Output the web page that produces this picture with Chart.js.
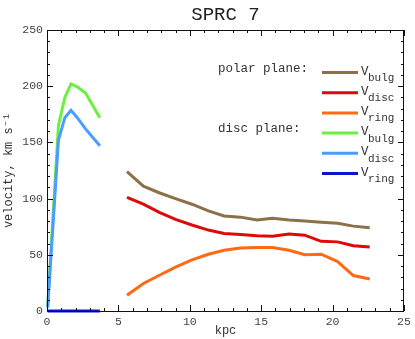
<!DOCTYPE html>
<html>
<head>
<meta charset="utf-8">
<script src="https://cdn.jsdelivr.net/npm/chart.js@4"></script>
<style>
  html, body { margin: 0; padding: 0; background: #fff; }
  #wrap { width: 415px; height: 339px; }
</style>
</head>
<body>
<div id="wrap"><canvas id="myChart" width="415" height="339"></canvas></div>
<script>
// polar plane (kpc / km s-1)
const polarR = [5.6, 6.75, 7.9, 9.0, 10.15, 11.3, 12.4, 13.55, 14.7, 15.8, 16.95, 18.05, 19.2, 20.35, 21.45, 22.6]
const polarBulg = [124, 111, 105, 100, 95, 89, 84.5, 83.5, 81, 82.5, 81, 80, 79, 78, 75.5, 74]
const polarDisc = [101, 95, 87.5, 81.5, 76.5, 72, 69, 68, 67, 66.5, 68.5, 67.5, 62, 61.5, 58, 57]
const polarRing = [14, 24.5, 32, 39, 45.5, 50.5, 54, 56, 56.5, 56.5, 54, 50, 50.5, 44, 31.5, 28.5]

// disc plane
const discR = [0.05, 0.8, 1.25, 1.68, 2.12, 2.7, 3.7]
const discBulg = [5, 165, 190, 202, 199.5, 194, 172]
const discDisc = [3, 152, 172, 178.5, 172, 162, 147]
const discRing = [0, 0, 0, 0, 0, 0, 0]

const xTicks = [0, 5, 10, 15, 20, 25]
const yTicks = [0, 50, 100, 150, 200, 250]

const mono = "'Liberation Mono', 'DejaVu Sans Mono', monospace"

const toPoints = (xs, ys) => xs.map((x, i) => ({ x: x, y: ys[i] }))

const series = [
    { name: "bulg", plane: "polar", color: "#8c7048", r: polarR, v: polarBulg },
    { name: "disc", plane: "polar", color: "#dd0a0a", r: polarR, v: polarDisc },
    { name: "ring", plane: "polar", color: "#ff6a12", r: polarR, v: polarRing },
    { name: "bulg", plane: "disc", color: "#6cf040", r: discR, v: discBulg },
    { name: "disc", plane: "disc", color: "#4a9cff", r: discR, v: discDisc },
    { name: "ring", plane: "disc", color: "#0a14d0", r: discR, v: discRing },
]

const datasets = series.map((s, i) => {
    return {
        label: s.plane + " " + s.name,
        data: toPoints(s.r, s.v),
        borderColor: s.color,
        backgroundColor: s.color,
        borderWidth: 3,
        pointRadius: 0,
        tension: 0,
        clip: false,
        order: s.name === "disc" && s.plane === "disc" ? 0 : i + 1,
    }
})

// frame, inward ticks, title and the hand made legend
const decorations = {
    id: "decorations",
    afterDraw(chart) {
        const ctx = chart.ctx
        const area = chart.chartArea
        const xs = chart.scales.x
        const ys = chart.scales.y
        ctx.save()
        ctx.strokeStyle = "#111"
        ctx.lineWidth = 1
        ctx.strokeRect(area.left + 0.5, area.top + 0.5, area.right - area.left - 1, area.bottom - area.top)

        ctx.beginPath()
        for (let v = 0; v <= 25; v++) {
            const px = Math.round(xs.getPixelForValue(v)) + 0.5
            const len = v % 5 === 0 ? 6 : 3
            ctx.moveTo(px, area.bottom)
            ctx.lineTo(px, area.bottom - len)
            ctx.moveTo(px, area.top)
            ctx.lineTo(px, area.top + len)
        }
        for (let v = 0; v <= 250; v += 10) {
            const py = Math.round(ys.getPixelForValue(v)) + 0.5
            const len = v % 50 === 0 ? 6 : 3
            ctx.moveTo(area.left, py)
            ctx.lineTo(area.left + len, py)
            ctx.moveTo(area.right, py)
            ctx.lineTo(area.right - len, py)
        }
        ctx.stroke()

        // title
        ctx.fillStyle = "#222"
        ctx.font = "19px " + mono
        ctx.textAlign = "center"
        ctx.textBaseline = "middle"
        ctx.fillText("SPRC 7", (area.left + area.right) / 2, 15)

        // legend
        ctx.textAlign = "left"
        ctx.textBaseline = "alphabetic"
        ctx.font = "12.5px " + mono
        ctx.fillStyle = "#333"
        ctx.fillText("polar plane:", 218, 71.5)
        ctx.fillText("disc plane:", 218, 132)
        series.forEach((s, i) => {
            const y = 72.5 + i * 20.2
            ctx.strokeStyle = s.color
            ctx.lineWidth = 3
            ctx.beginPath()
            ctx.moveTo(322, y)
            ctx.lineTo(358, y)
            ctx.stroke()
            ctx.font = "12.5px " + mono
            ctx.fillText("V", 361, y + 2)
            ctx.font = "11px " + mono
            ctx.fillText(s.name, 368, y + 8.5)
        })
        ctx.restore()
    }
}

const config = {
    type: "line",
    data: { datasets: datasets },
    options: {
        responsive: false,
        animation: false,
        layout: { padding: { top: 30, right: 11, left: 0, bottom: 0 } },
        plugins: {
            legend: { display: false },
            title: { display: false },
            tooltip: { enabled: false },
        },
        scales: {
            x: {
                type: "linear",
                min: 0,
                max: 25,
                afterFit: (scale) => { scale.height = 28 },
                afterBuildTicks: (scale) => { scale.ticks = xTicks.map(v => ({ value: v })) },
                grid: { display: false, drawTicks: false },
                border: { display: false },
                ticks: { color: "#444", padding: 4, font: { family: mono, size: 11.5 } },
                title: { display: true, text: "kpc", color: "#333", padding: 1, font: { family: mono, size: 12 } },
            },
            y: {
                min: 0,
                max: 250,
                afterFit: (scale) => { scale.width = 47 },
                afterBuildTicks: (scale) => { scale.ticks = yTicks.map(v => ({ value: v })) },
                grid: { display: false, drawTicks: false },
                border: { display: false },
                ticks: { color: "#444", padding: 4, font: { family: mono, size: 11.5 } },
                title: { display: true, text: "velocity, km s\u207B\u00B9", color: "#333", padding: { top: 2, bottom: 0 }, font: { family: mono, size: 12 } },
            },
        },
    },
    plugins: [decorations],
}

new Chart(document.querySelector("#myChart"), config)
</script>
</body>
</html>
